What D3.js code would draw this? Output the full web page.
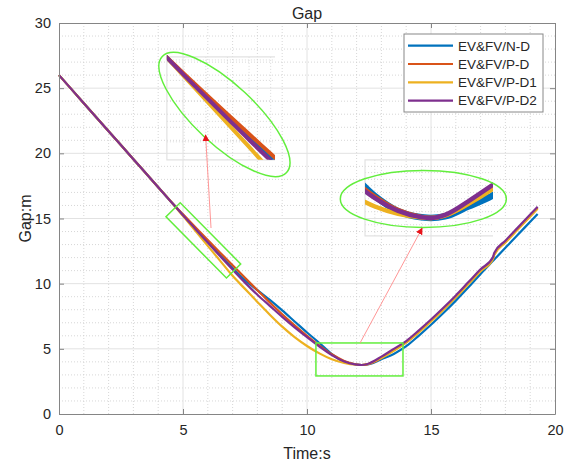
<!DOCTYPE html>
<html>
<head>
<meta charset="utf-8">
<script src="https://cdn.jsdelivr.net/npm/d3@7"></script>
<style>
  body { margin: 0; background: #fff; }
  svg { display: block; }
  text { font-family: "Liberation Sans", Arial, Helvetica, sans-serif; fill: #262626; }
</style>
</head>
<body>
<svg id="chart" width="573" height="464"></svg>
<script>
// Sampling instants (s); the P-D controllers re-plan at 17.5 s (small jump)
const time = [0, 1, 2, 3, 4, 4.5, 5, 5.5, 6, 6.5, 7, 7.5, 8, 8.5, 9, 9.5, 10, 10.5, 11, 11.5,
              12, 12.2, 12.5, 13, 13.5, 14, 14.5, 15, 15.5, 16, 16.5, 17, 17.5, 17.55, 18, 18.5, 19, 19.3];

// Inter-vehicle gap (m) for each strategy
const gapND  = [26, 23.85, 21.7, 19.55, 17.4, 16.33, 15.27, 14.23, 13.2, 12.2, 11.2, 10.27, 9.5, 8.75, 7.95, 7.1, 6.25, 5.45, 4.6, 4.02,
                3.79, 3.76, 3.82, 4.2, 4.6, 5.2, 6.0, 6.85, 7.75, 8.7, 9.7, 10.75, 11.75, 11.85, 12.75, 13.75, 14.75, 15.35];
const gapPD  = [26, 23.85, 21.7, 19.55, 17.4, 16.33, 15.32, 14.33, 13.35, 12.38, 11.42, 10.45, 9.5, 8.55, 7.65, 6.8, 6.0, 5.25, 4.58, 4.06,
                3.8, 3.76, 3.85, 4.3, 4.9, 5.5, 6.3, 7.15, 8.05, 9.0, 10.0, 11.0, 11.95, 12.25, 13.2, 14.2, 15.2, 15.8];
const gapPD1 = [26, 23.85, 21.7, 19.55, 17.4, 16.33, 15.2, 14.05, 12.9, 11.75, 10.6, 9.6, 8.6, 7.62, 6.7, 5.9, 5.22, 4.65, 4.2, 3.92,
                3.78, 3.76, 3.86, 4.3, 4.85, 5.5, 6.25, 7.1, 8.0, 8.95, 9.95, 10.95, 11.9, 12.2, 13.15, 14.15, 15.15, 15.75];
const gapPD2 = [26, 23.85, 21.7, 19.55, 17.4, 16.33, 15.25, 14.2, 13.15, 12.1, 11.08, 10.08, 9.15, 8.3, 7.45, 6.65, 5.9, 5.18, 4.52, 4.03,
                3.79, 3.76, 3.88, 4.4, 5.0, 5.6, 6.4, 7.25, 8.15, 9.1, 10.1, 11.1, 12.05, 12.35, 13.3, 14.3, 15.3, 15.9];

const seriesNames  = ["EV&FV/N-D", "EV&FV/P-D", "EV&FV/P-D1", "EV&FV/P-D2"];
const seriesColors = ["#0072BD", "#D95319", "#EDB120", "#7E2F8E"];
const seriesValues = [gapND, gapPD, gapPD1, gapPD2];

const xTicks = [0, 5, 10, 15, 20];
const yTicks = [0, 5, 10, 15, 20, 25, 30];

const M = { left: 59, right: 555, top: 23, bottom: 414 };

const svg = d3.select("#chart");
const x = d3.scaleLinear().domain([0, 20]).range([M.left, M.right]);
const y = d3.scaleLinear().domain([0, 30]).range([M.bottom, M.top]);

const series = seriesValues.map((vals, i) => ({
  name: seriesNames[i], color: seriesColors[i],
  pts: time.map((t, k) => [t, vals[k]])
}));

// ---- grid ----
const grid = svg.append("g");
const minorStyle = sel => sel.attr("stroke", "#cdcdcd").attr("stroke-width", 0.8).attr("stroke-dasharray", "1,2");
const majorStyle = sel => sel.attr("stroke", "#e2e2e2").attr("stroke-width", 1);
d3.range(1, 20).filter(v => v % 5 !== 0).forEach(v => {
  grid.append("line").attr("x1", x(v)).attr("x2", x(v)).attr("y1", M.top).attr("y2", M.bottom).call(minorStyle);
});
d3.range(1, 30).filter(v => v % 5 !== 0).forEach(v => {
  grid.append("line").attr("x1", M.left).attr("x2", M.right).attr("y1", y(v)).attr("y2", y(v)).call(minorStyle);
});
xTicks.slice(1, -1).forEach(v => {
  grid.append("line").attr("x1", x(v)).attr("x2", x(v)).attr("y1", M.top).attr("y2", M.bottom).call(majorStyle);
});
yTicks.slice(1, -1).forEach(v => {
  grid.append("line").attr("x1", M.left).attr("x2", M.right).attr("y1", y(v)).attr("y2", y(v)).call(majorStyle);
});

// ---- main curves ----
const line = d3.line().curve(d3.curveMonotoneX).x(d => x(d[0])).y(d => y(d[1]));
series.forEach(s => {
  svg.append("path").attr("d", line(s.pts)).attr("fill", "none")
    .attr("stroke", s.color).attr("stroke-width", 2.2).attr("stroke-linejoin", "round");
});

// ---- axes (box with inward ticks) ----
const axisColor = "#858585";
function styleAxis(g) {
  g.select(".domain").attr("stroke", axisColor);
  g.selectAll(".tick line").attr("stroke", axisColor);
  g.selectAll(".tick text").attr("fill", "#262626").style("font-size", "14.5px")
    .style("font-family", '"Liberation Sans", Arial, sans-serif');
}
svg.append("g").attr("transform", `translate(0,${M.bottom})`)
  .call(d3.axisBottom(x).tickValues(xTicks).tickSizeInner(-5).tickSizeOuter(0).tickPadding(11))
  .call(styleAxis);
svg.append("g").attr("transform", `translate(${M.left},0)`)
  .call(d3.axisLeft(y).tickValues(yTicks).tickSizeInner(-5).tickSizeOuter(0).tickPadding(8))
  .call(styleAxis);
svg.append("g").attr("transform", `translate(0,${M.top})`)
  .call(d3.axisTop(x).tickValues(xTicks).tickSizeInner(-5).tickSizeOuter(0).tickFormat(""))
  .call(styleAxis);
svg.append("g").attr("transform", `translate(${M.right},0)`)
  .call(d3.axisRight(y).tickValues(yTicks).tickSizeInner(-5).tickSizeOuter(0).tickFormat(""))
  .call(styleAxis);

// ---- titles ----
svg.append("text").attr("x", (M.left + M.right) / 2).attr("y", 19).attr("text-anchor", "middle")
  .style("font-size", "16px").text("Gap");
svg.append("text").attr("x", (M.left + M.right) / 2).attr("y", 459).attr("text-anchor", "middle")
  .style("font-size", "16px").text("Time:s");
svg.append("text").attr("transform", `translate(31,${(M.top + M.bottom) / 2}) rotate(-90)`)
  .attr("text-anchor", "middle").style("font-size", "16px").text("Gap:m");

// ---- zoom annotations ----
const green = "#62ee3c";
const defs = svg.append("defs");
defs.append("marker").attr("id", "arrowHead").attr("viewBox", "0 0 8 8")
  .attr("refX", 7).attr("refY", 4).attr("markerWidth", 7).attr("markerHeight", 7)
  .attr("markerUnits", "userSpaceOnUse").attr("orient", "auto")
  .append("path").attr("d", "M0,0 L8,4 L0,8 z").attr("fill", "#e8141b");

// Magnified views: box placed in chart units, view window in data units
const insets = [
  { box: { t0: 4.35, t1: 8.71, g0: 19.5, g1: 27.4 }, view: { t0: 4.6, t1: 7.1, g0: 11.12, g1: 16.15 },
    widths: [4, 4, 4, 4], gridT: [5, 5.5, 6, 6.5, 7], gridG: [12, 13, 14, 15, 16] },
  { box: { t0: 12.34, t1: 17.5, g0: 13.66, g1: 19.5 }, view: { t0: 10.79, t1: 13.53, g0: 3.07, g1: 5.99 },
    widths: [6.5, 4.5, 4.5, 4.5], gridT: [11, 12, 13], gridG: [3.5, 4, 4.5, 5, 5.5] }
];

insets.forEach((ins, idx) => {
  const bx0 = x(ins.box.t0), bx1 = x(ins.box.t1), by0 = y(ins.box.g1), by1 = y(ins.box.g0);
  const ix = d3.scaleLinear().domain([ins.view.t0, ins.view.t1]).range([bx0, bx1]);
  const iy = d3.scaleLinear().domain([ins.view.g0, ins.view.g1]).range([by1, by0]);
  const clipId = "insetClip" + idx;
  defs.append("clipPath").attr("id", clipId).append("rect")
    .attr("x", bx0).attr("y", by0 - 2).attr("width", bx1 - bx0).attr("height", by1 - by0 + 2);
  const g = svg.append("g");
  ins.gridT.forEach(v => g.append("line").attr("x1", ix(v)).attr("x2", ix(v)).attr("y1", by0).attr("y2", by1)
    .attr("stroke", "#cfcfcf").attr("stroke-width", 0.8).attr("stroke-dasharray", "1,2"));
  ins.gridG.forEach(v => g.append("line").attr("x1", bx0).attr("x2", bx1).attr("y1", iy(v)).attr("y2", iy(v))
    .attr("stroke", "#cfcfcf").attr("stroke-width", 0.8).attr("stroke-dasharray", "1,2"));
  g.append("path").attr("d", `M${bx1},${by0}H${bx0}V${by1}H${bx1}`).attr("fill", "none")
    .attr("stroke", "#e2e2e2").attr("stroke-width", 1.2);
  const iline = d3.line().curve(d3.curveMonotoneX).x(d => ix(d[0])).y(d => iy(d[1]));
  const lg = g.append("g").attr("clip-path", `url(#${clipId})`);
  series.forEach((s, i) => {
    lg.append("path").attr("d", iline(s.pts)).attr("fill", "none")
      .attr("stroke", s.color).attr("stroke-width", ins.widths[i]).attr("stroke-linejoin", "round");
  });
});

// Ellipses around the magnified views (centres in data units, sizes in px)
const ellipses = [
  { t: 6.67, g: 22.98, rx: 85, ry: 30, angle: 43 },
  { t: 14.69, g: 16.5, rx: 83, ry: 28.5, angle: 0 }
];
ellipses.forEach(e => {
  svg.append("ellipse").attr("cx", 0).attr("cy", 0).attr("rx", e.rx).attr("ry", e.ry)
    .attr("transform", `translate(${x(e.t)},${y(e.g)}) rotate(${e.angle})`)
    .attr("fill", "none").attr("stroke", green).attr("stroke-width", 1.5);
});

// Regions of interest on the curves
svg.append("rect").attr("x", -43).attr("y", -10).attr("width", 86).attr("height", 20)
  .attr("transform", `translate(${x(5.82)},${y(13.32)}) rotate(45.3)`)
  .attr("fill", "none").attr("stroke", green).attr("stroke-width", 1.5);
svg.append("rect").attr("x", x(10.36)).attr("y", y(5.45)).attr("width", x(13.87) - x(10.36))
  .attr("height", y(2.92) - y(5.45)).attr("fill", "none").attr("stroke", green).attr("stroke-width", 1.5);

// Pointers from regions to their magnified views
const arrows = [
  { from: [6.13, 14.27], to: [5.91, 21.4] },
  { from: [12.14, 5.45], to: [14.64, 14.25] }
];
arrows.forEach(a => {
  svg.append("line").attr("x1", x(a.from[0])).attr("y1", y(a.from[1]))
    .attr("x2", x(a.to[0])).attr("y2", y(a.to[1]))
    .attr("stroke", "#ff8a8a").attr("stroke-width", 0.9).attr("marker-end", "url(#arrowHead)");
});

// ---- legend ----
const leg = svg.append("g");
leg.append("rect").attr("x", 404).attr("y", 34).attr("width", 139).attr("height", 78)
  .attr("fill", "#fff").attr("stroke", "#888").attr("stroke-width", 1);
series.forEach((s, i) => {
  const ly = 45.7 + i * 18.3;
  leg.append("line").attr("x1", 408).attr("x2", 453).attr("y1", ly).attr("y2", ly)
    .attr("stroke", s.color).attr("stroke-width", 2.2);
  leg.append("text").attr("x", 458).attr("y", ly).attr("dy", "0.36em")
    .style("font-size", "13.5px").text(s.name);
});
</script>
</body>
</html>
